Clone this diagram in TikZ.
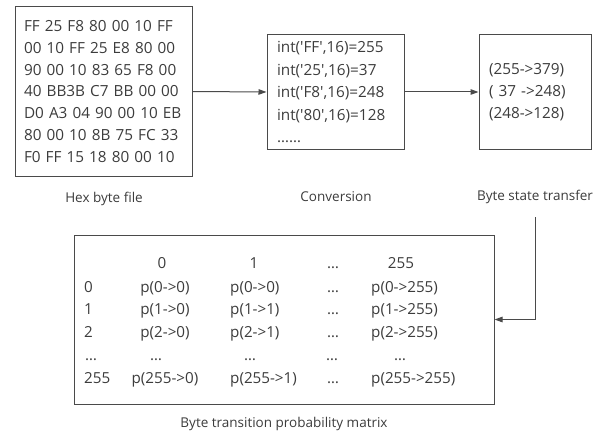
\documentclass[tikz,border=0pt]{standalone}
\usepackage{fontspec}
\setmainfont{Open Sans}
\usetikzlibrary{arrows.meta}
\definecolor{inkgray}{HTML}{3C3C3C}
\definecolor{linegray}{HTML}{4A4A4A}
\newcommand{\sq}{\textquotesingle}

\begin{document}
\begin{tikzpicture}[x=1pt,y=-1pt,
	box/.style={draw=linegray,line width=1pt,align=left,text=inkgray,
		font=\fontsize{15.3}{21.7}\selectfont},
	caption/.style={text=inkgray,inner sep=0pt,font=\fontsize{13.5}{16}\selectfont},
	cell/.style={text=inkgray,inner sep=0pt,font=\fontsize{15.2}{18}\selectfont},
	arr/.style={draw=linegray,line width=1pt,-{Triangle[length=8pt,width=5.5pt]}}]
\useasboundingbox (0,0) rectangle (601,433);
\node[box,minimum width=177pt,minimum height=169pt,text width=159pt,inner xsep=9pt]
(hexfile) at (103.5,91.5)
	{FF 25 F8 80 00 10 FF\\00 10 FF 25 E8 80 00\\90 00 10 83 65 F8 00\\
	40 BB3B C7 BB 00 00\\D0 A3 04 90 00 10 EB\\80 00 10 8B 75 FC 33\\
	F0 FF 15 18 80 00 10};
\node[box,minimum width=137pt,minimum height=114pt,text width=117pt,inner xsep=10pt,
	font=\fontsize{15.3}{22.5}\selectfont]
(conv) at (335.5,92)
	{int(\sq FF\sq,16)=255\\int(\sq 25\sq,16)=37\\int(\sq F8\sq,16)=248\\
	int(\sq 80\sq,16)=128\\……};
\node[box,minimum width=112pt,minimum height=114pt,text width=92pt,inner xsep=10pt,
	font=\fontsize{15.3}{22}\selectfont]
(bst) at (535,92)
	{(255->379)\\( 37 ->248)\\(248->128)};
\node[box,minimum width=420pt,minimum height=169pt] (probmat) at (284,319.5) {};
\node[caption] (hexlbl) at (104,199) {Hex byte file};
\node[caption] (convlbl) at (336,197) {Conversion};
\node[caption] (bstlbl) at (535,197) {Byte state transfer};
\node[caption] (matlbl) at (284,424) {Byte transition probability matrix};
\coordinate (bstout) at (535,217);
% matrix header
\node[cell,anchor=base] (head0) at (162,268) {0};
\node[cell,anchor=base] (head1) at (254,268) {1};
\node[cell,anchor=base] (headdots) at (333,268) {…};
\node[cell,anchor=base] (head255) at (401,268) {255};
% matrix rows
\foreach \i/\y/\rl/\pa/\pb/\pc in {0/292/0/p(0->0)/p(0->0)/p(0->255),
	1/314/1/p(1->0)/p(1->1)/p(1->255),
	2/337/2/p(2->0)/p(2->1)/p(2->255),
	255/383/255/p(255->0)/p(255->1)/p(255->255)}{
	\node[cell,anchor=base west] (row\i) at (84,\y) {\rl};
	\node[cell,anchor=base] (p\i-0) at (165,\y) {\pa};
	\node[cell,anchor=base west] (p\i-1) at (230,\y) {\pb};
	\node[cell,anchor=base] (dots\i) at (333,\y) {…};
	\node[cell,anchor=base west] (p\i-255) at (371,\y) {\pc};
}
\node[cell,anchor=base west] (rowdots) at (85,360) {…};
\node[cell,anchor=base] (pdots-0) at (156,360) {…};
\node[cell,anchor=base] (pdots-1) at (250,360) {…};
\node[cell,anchor=base] (pdots-dots) at (332,360) {…};
\node[cell,anchor=base] (pdots-255) at (400,360) {…};
\draw[arr] (hexfile.east) -- (conv.west);
\draw[arr] (conv.east) -- (bst.west);
\draw[arr] (bstout) |- (probmat.east);
\end{tikzpicture}
\end{document}
